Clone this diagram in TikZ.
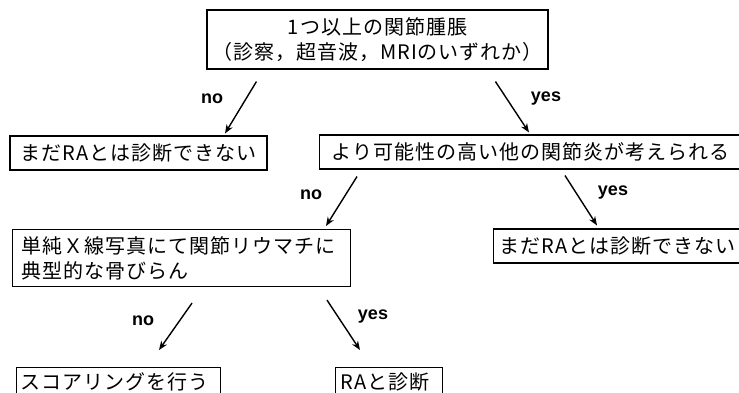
\documentclass[tikz,border=0pt]{standalone}
\usepackage{fontspec}
\usetikzlibrary{arrows.meta,calc}
\newfontfamily\jp[LetterSpace=5]{Noto Sans CJK JP}
\newfontfamily\lab{Liberation Sans}
\begin{document}
\begin{tikzpicture}[x=1pt,y=-1pt,
  box/.style={draw=black,line width=1.1pt,rectangle,inner ysep=0pt,
    font=\jp\fontsize{20}{25}\selectfont},
  lbl/.style={font=\lab\bfseries\fontsize{18}{20}\selectfont,inner sep=0pt},
  arr/.style={line width=1.4pt,-{Stealth[length=9pt,width=7pt]}}]
\clip (0,0) rectangle (739,393);
\fill[white] (0,0) rectangle (739,393);
\node[box,minimum width=341pt,minimum height=59pt,align=center] (top) at (377.5,39.5)
  {1つ以上の関節腫脹\\（診察，超音波，MRIのいずれか）};
\node[box,minimum width=257pt,minimum height=34pt] (b2) at (138.5,153)
  {まだRAとは診断できない};
\node[box,anchor=west,inner xsep=12pt,text width=440pt,align=left,minimum height=34pt] (b3) at (319,152)
  {より可能性の高い他の関節炎が考えられる};
\node[box,anchor=west,inner xsep=6pt,text width=300pt,align=left,minimum height=34pt] (b4) at (493,246)
  {まだRAとは診断できない};
\node[box,anchor=north west,inner xsep=9pt,text width=320pt,align=left,minimum height=57pt] (b5) at (12,229)
  {単純Ｘ線写真にて関節リウマチに\\典型的な骨びらん};
\node[box,anchor=north west,inner xsep=4pt,text width=196pt,align=left,minimum height=29pt] (b6) at (16,367)
  {スコアリングを行う};
\node[box,anchor=north west,inner xsep=5pt,text width=97pt,align=left,minimum height=29pt] (b7) at (335,367)
  {RAと診断};
\draw[arr] ($(top.south west)+(50,12)$) -- ($(b2.north)+(86.5,-2)$);
\draw[arr] ($(top.south west)+(289,12)$) -- ($(b3.north west)+(210,-2)$);
\draw[arr] ($(b3.south west)+(38,7)$) -- ($(b5.north west)+(314,-3)$);
\draw[arr] ($(b3.south west)+(246,6)$) -- ($(b4.north west)+(104,-3)$);
\draw[arr] ($(b5.south west)+(180,16)$) -- ($(b6.north west)+(143,-17)$);
\draw[arr] ($(b5.south west)+(315,13)$) -- ($(b7.north west)+(25,-17)$);
\node[lbl] (l1) at (212,99) {no};
\node[lbl] (l2) at (546,99) {yes};
\node[lbl] (l3) at (311,195) {no};
\node[lbl] (l4) at (613,193) {yes};
\node[lbl] (l5) at (143,321) {no};
\node[lbl] (l6) at (373,317) {yes};
\end{tikzpicture}
\end{document}
